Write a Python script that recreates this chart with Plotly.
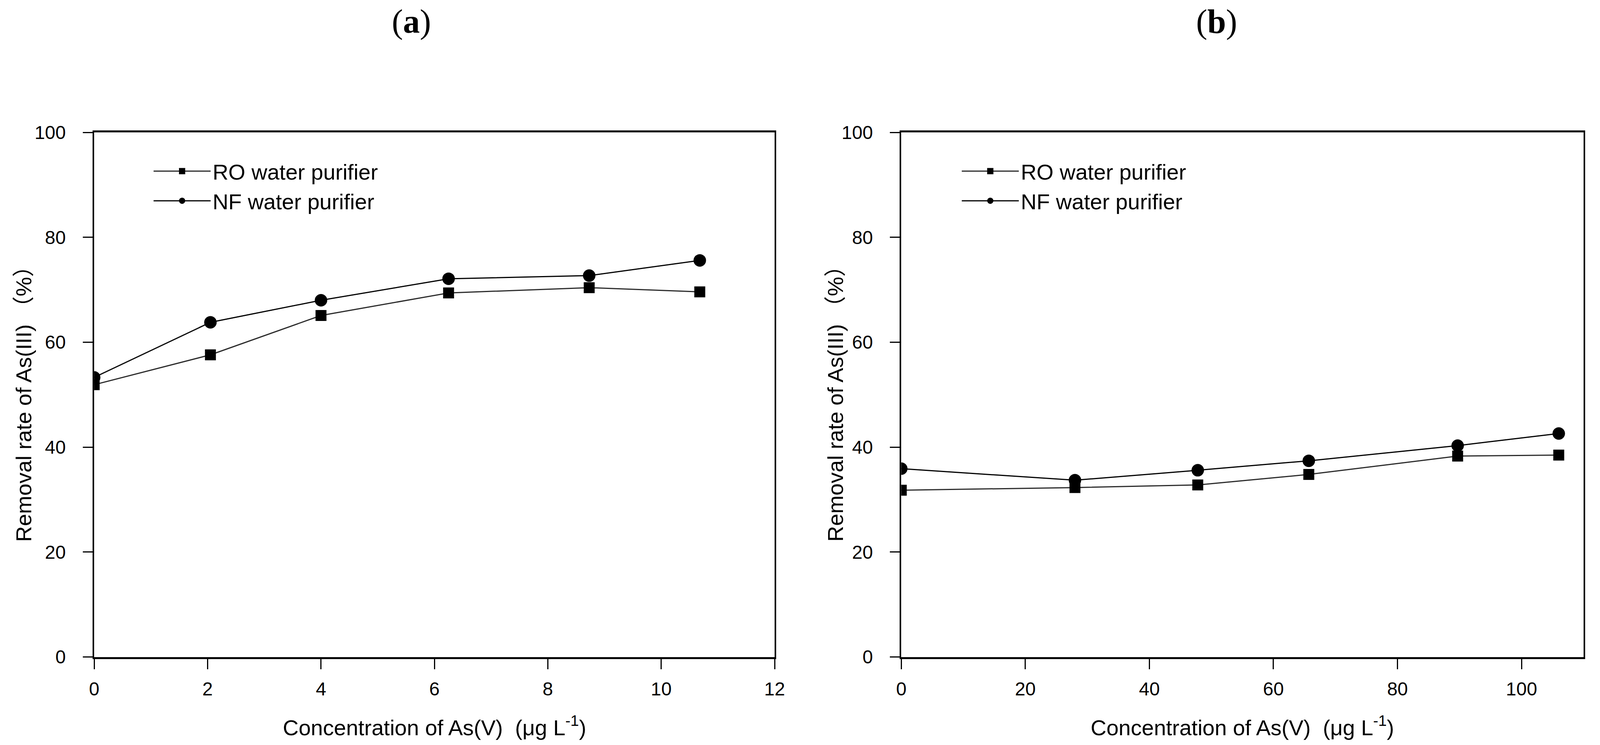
import plotly.graph_objects as go

# panel (a): low concentration series
conc_a = [0, 2.05, 4.0, 6.25, 8.73, 10.68]
ro_a = [51.9, 57.6, 65.1, 69.4, 70.4, 69.6]
nf_a = [53.3, 63.8, 68.0, 72.1, 72.7, 75.6]

# panel (b): high concentration series
conc_b = [0, 28.0, 47.8, 65.7, 89.7, 106.0]
ro_b = [31.8, 32.3, 32.8, 34.8, 38.3, 38.5]
nf_b = [35.9, 33.7, 35.6, 37.4, 40.3, 42.6]

series_names = ["RO water purifier", "NF water purifier"]
panel_labels = ["(<b>a</b>)", "(<b>b</b>)"]
x_title = "Concentration of As(V)  (\u03bcg L<sup>-1</sup>)"
y_title = "Removal rate of As(III) \uff08%\uff09"

# reference geometry measured in a 4303 x 1908 frame, used as fractions
W, H = 4303, 1908
FONT = "Liberation Sans, Arial, Noto Sans CJK SC, sans-serif"

fig = go.Figure()

def add_pair(x, ro, nf, xa, ya, leg):
    fig.add_trace(go.Scatter(
        x=x, y=ro, name=series_names[0], xaxis=xa, yaxis=ya, legend=leg,
        mode="lines+markers", line=dict(color="#2a2a2a", width=3),
        marker=dict(symbol="square", size=28, color="black"),
    ))
    fig.add_trace(go.Scatter(
        x=x, y=nf, name=series_names[1], xaxis=xa, yaxis=ya, legend=leg,
        mode="lines+markers", line=dict(color="black", width=3),
        marker=dict(symbol="circle", size=32, color="black"),
    ))

add_pair(conc_a, ro_a, nf_a, "x", "y", "legend")
add_pair(conc_b, ro_b, nf_b, "x2", "y2", "legend2")

dom_a = [242 / W, 2090 / W]
dom_b = [2434 / W, 4287 / W]
dom_y = [1 - 1704 / H, 1 - 322 / H]

xcommon = dict(showgrid=False, zeroline=False, showline=True, linecolor="black",
               linewidth=5, mirror=True, ticks="outside", ticklen=26, tickwidth=3,
               tickcolor="black", ticklabelstandoff=10,
               tickfont=dict(family=FONT, size=48, color="black"))
ycommon = dict(showgrid=False, zeroline=False, showline=True, linecolor="black",
               linewidth=4, mirror=True, ticks="outside", ticklen=25, tickwidth=3,
               tickcolor="black", ticklabelstandoff=34, range=[0, 100], dtick=20,
               tickfont=dict(family=FONT, size=48, color="black"), domain=dom_y)

legcommon = dict(font=dict(family=FONT, size=56, color="black"), bgcolor="rgba(0,0,0,0)",
                 itemwidth=146, xanchor="left", yanchor="top", tracegroupgap=0,
                 itemsizing="trace")

fig.update_layout(
    autosize=True,
    margin=dict(l=0, r=0, t=0, b=0),
    paper_bgcolor="white", plot_bgcolor="white",
    xaxis=dict(domain=dom_a, range=[0, 12], dtick=2, anchor="y", **xcommon),
    yaxis=dict(anchor="x", **ycommon),
    xaxis2=dict(domain=dom_b, range=[0, 110], dtick=20, anchor="y2", **xcommon),
    yaxis2=dict(anchor="x2", **ycommon),
    legend=dict(x=0.0925, y=1 - 380 / H, **legcommon),
    legend2=dict(x=0.6026, y=1 - 380 / H, **legcommon),
    showlegend=True,
)

annotations = []
for cx, ytx in [((dom_a[0] + dom_a[1]) / 2, 50 / W),
                ((dom_b[0] + dom_b[1]) / 2, 2255 / W)]:
    annotations.append(dict(text=x_title, x=cx, y=1 - 1886 / H, xref="paper", yref="paper",
                            showarrow=False, xanchor="center", yanchor="middle",
                            font=dict(family=FONT, size=56, color="black")))
    annotations.append(dict(text=y_title, x=ytx, y=1 - 1023 / H, xref="paper", yref="paper",
                            showarrow=False, textangle=-90, xanchor="center", yanchor="middle",
                            font=dict(family=FONT, size=56, color="black")))
for lab, lx in zip(panel_labels, [1103, 3290]):
    annotations.append(dict(text=lab, x=lx / W, y=1 - 30 / H, xref="paper", yref="paper",
                            showarrow=False, xanchor="center", yanchor="middle",
                            font=dict(family="Liberation Serif, Times New Roman, serif",
                                      size=86, color="black")))
fig.update_layout(annotations=annotations)

fig.write_html(
    "out.html",
    config={"displayModeBar": False, "responsive": True},
    default_width="100vw", default_height="100vh",
    post_script=("document.body.style.margin='0';"
                 "document.body.style.overflow='hidden';"
                 "Plotly.Plots.resize(document.getElementById('{plot_id}'));"),
)
